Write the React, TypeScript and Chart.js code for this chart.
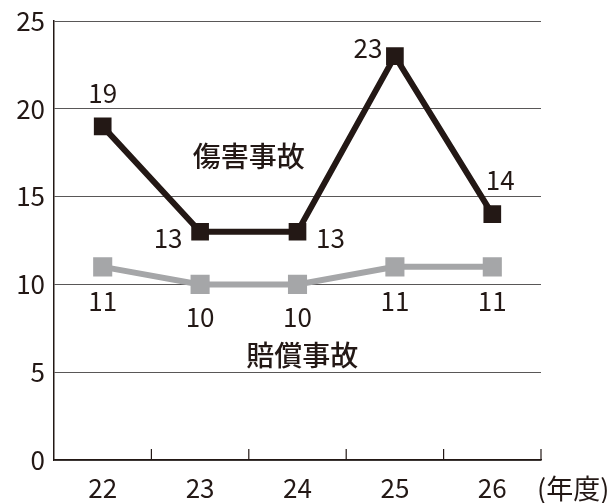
import React, { useEffect, useRef } from "react";
import { Chart, registerables } from "chart.js";

Chart.register(...registerables);

const categories = ["22", "23", "24", "25", "26"];
const injuryValues = [19, 13, 13, 23, 14];
const liabilityValues = [11, 10, 10, 11, 11];
const injuryName = "傷害事故";
const liabilityName = "賠償事故";
const unitLabel = "(年度)";
const yTicks = [0, 5, 10, 15, 20, 25];

// label offsets (px) relative to each point
const injuryLabelOffsets = [[0, -33], [-32, 6], [33, 6], [-27, -8], [8, -34]];
const liabilityLabelOffsets = [[0, 34], [0, 33], [0, 33], [0, 34], [0, 34]];

const TEXT = "#231815";
const DARK = "#231815";
const GRAY = "#a5a6a8";
const GRID = "#595757";
const FONT = "'Noto Sans CJK JP', 'Noto Sans', sans-serif";

const labelPlugin = {
  id: "customLabels",
  afterDatasetsDraw(chart: any) {
    const ctx = chart.ctx;
    const x = chart.scales.x;
    const y = chart.scales.y;
    ctx.save();
    ctx.strokeStyle = DARK;
    ctx.lineWidth = 1.2;
    const n = categories.length;
    const step = x.getPixelForValue(1) - x.getPixelForValue(0);
    for (let i = 0; i < n; i++) {
      const bx = x.getPixelForValue(i) + step / 2;
      ctx.beginPath();
      ctx.moveTo(bx, y.getPixelForValue(0));
      ctx.lineTo(bx, y.getPixelForValue(0) - 11);
      ctx.stroke();
    }
    ctx.fillStyle = TEXT;
    ctx.font = `26px ${FONT}`;
    ctx.textAlign = "center";
    ctx.textBaseline = "middle";
    injuryValues.forEach((v, i) => {
      const [dx, dy] = injuryLabelOffsets[i];
      ctx.fillText(String(v), x.getPixelForValue(i) + dx, y.getPixelForValue(v) + dy);
    });
    liabilityValues.forEach((v, i) => {
      const [dx, dy] = liabilityLabelOffsets[i];
      ctx.fillText(String(v), x.getPixelForValue(i) + dx, y.getPixelForValue(v) + dy);
    });
    ctx.font = `500 28px ${FONT}`;
    ctx.fillText(injuryName, x.getPixelForValue(1.5), y.getPixelForValue(17.3));
    ctx.fillText(liabilityName, x.getPixelForValue(2.05), y.getPixelForValue(5.95));
    ctx.font = `27px ${FONT}`;
    ctx.textAlign = "left";
    ctx.fillText(unitLabel, chart.chartArea.right - 4, y.getPixelForValue(0) + 29);
    ctx.restore();
  },
};

export default function App() {
  const ref = useRef<HTMLCanvasElement>(null);
  useEffect(() => {
    if (!ref.current) return;
    const chart = new Chart(ref.current, {
      type: "line",
      data: {
        labels: categories,
        datasets: [
          {
            label: liabilityName,
            data: liabilityValues,
            borderColor: GRAY,
            backgroundColor: GRAY,
            borderWidth: 6,
            pointStyle: "rect",
            pointRadius: 13.5,
            pointBorderWidth: 0,
            pointBackgroundColor: GRAY,
            tension: 0,
          },
          {
            label: injuryName,
            data: injuryValues,
            borderColor: DARK,
            backgroundColor: DARK,
            borderWidth: 6,
            pointStyle: "rect",
            pointRadius: 12.5,
            pointBorderWidth: 0,
            pointBackgroundColor: DARK,
            tension: 0,
          },
        ],
      },
      options: {
        responsive: false,
        animation: false,
        layout: { padding: { top: 21, right: 74, left: 0, bottom: 0 } },
        plugins: { legend: { display: false }, tooltip: { enabled: false } },
        scales: {
          x: {
            offset: true,
            grid: { display: false, drawTicks: false },
            border: { display: true, color: DARK, width: 1.5 },
            ticks: { color: TEXT, font: { family: FONT, size: 26 }, padding: 13 },
            afterFit: (s: any) => { s.height = 43; s.paddingLeft = 0; s.paddingRight = 0; },
          },
          y: {
            min: 0,
            max: 25,
            afterBuildTicks: (s: any) => { s.ticks = yTicks.map((v) => ({ value: v })); },
            grid: { color: GRID, lineWidth: 1, drawTicks: false },
            border: { display: true, color: DARK, width: 1.5 },
            ticks: { color: TEXT, font: { family: FONT, size: 26 }, padding: 9 },
            afterFit: (s: any) => { s.width = 54; s.paddingTop = 0; s.paddingBottom = 0; },
          },
        },
      },
      plugins: [labelPlugin],
    } as any);
    return () => chart.destroy();
  }, []);
  return (
    <div style={{ position: "absolute", left: 0, top: 0, width: 615, height: 503, background: "#fff" }}>
      <canvas ref={ref} width={615} height={503} />
    </div>
  );
}
